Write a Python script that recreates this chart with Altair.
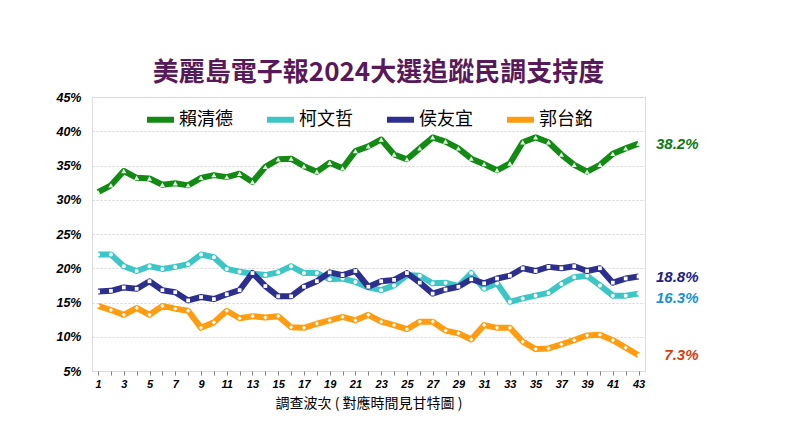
import altair as alt
import pandas as pd

waves = list(range(1, 44))
series_names = ["賴清德", "柯文哲", "侯友宜", "郭台銘"]

lai = [31.1, 32.1, 34.2, 33.2, 33.1, 32.2, 32.4, 32.1, 33.2, 33.6, 33.3, 33.8, 32.6, 34.8, 35.9,
       36.0, 34.9, 34.1, 35.4, 34.6, 37.1, 37.8, 38.8, 36.6, 35.9, 37.5, 39.1, 38.5, 37.5, 36.0,
       35.2, 34.3, 35.3, 38.4, 39.1, 38.4, 36.6, 35.1, 34.1, 35.1, 36.7, 37.5, 38.2]
ko = [22.0, 22.0, 20.3, 19.6, 20.3, 19.9, 20.2, 20.6, 22.0, 21.6, 19.9, 19.5, 19.2, 19.0, 19.4,
      20.3, 19.3, 19.3, 18.4, 18.5, 18.0, 17.2, 16.8, 17.5, 19.0, 18.9, 17.8, 17.9, 17.4, 19.3,
      17.0, 17.8, 15.1, 15.6, 16.0, 16.4, 17.7, 18.7, 18.9, 17.5, 16.0, 16.0, 16.3]
hou = [16.6, 16.7, 17.2, 17.0, 18.1, 16.8, 16.5, 15.3, 15.8, 15.5, 16.2, 16.8, 19.3, 17.4, 15.9,
       15.9, 17.3, 18.1, 19.4, 19.0, 19.6, 17.3, 18.1, 18.3, 19.3, 17.9, 16.3, 16.9, 17.3, 18.4,
       17.8, 18.5, 18.9, 20.0, 19.6, 20.2, 20.0, 20.3, 19.6, 20.0, 17.9, 18.5, 18.8]
gou = [14.5, 13.9, 13.2, 14.2, 13.2, 14.5, 14.1, 13.8, 11.3, 12.1, 13.8, 12.7, 13.0, 12.8, 13.0,
       11.4, 11.3, 11.9, 12.4, 12.9, 12.4, 13.2, 12.2, 11.7, 11.1, 12.2, 12.2, 10.9, 10.5, 9.6,
       11.7, 11.3, 11.3, 9.3, 8.2, 8.3, 8.9, 9.5, 10.2, 10.3, 9.5, 8.4, 7.3]
all_values = [lai, ko, hou, gou]

y_ticks = [5, 10, 15, 20, 25, 30, 35, 40, 45]

line_colors = ["#138a13", "#3cc6c6", "#2d2f8f", "#ff9c0f"]
label_colors = ["#0f7a12", "#1b93d1", "#1c1d8c", "#d4400f"]
marker_shapes = ["triangle-up", "circle", "square", "diamond"]
marker_fills = ["#e6ffe6", "white", "white", "white"]
marker_sizes = [26, 16, 14, 18]
label_dy = [0, 4, 1, 0]

rows = []
for name, vals in zip(series_names, all_values):
    for w, v in zip(waves, vals):
        rows.append({"wave": w, "value": v, "series": name, "label": f"{v}%"})
df = pd.DataFrame(rows)

x_enc = alt.X(
    "wave:Q",
    scale=alt.Scale(domain=[0.53, 43.5], nice=False, zero=False),
    axis=alt.Axis(
        values=waves,
        labelExpr="datum.value % 2 == 1 ? datum.label : ''",
        labelOverlap=False,
        labelFont="Liberation Sans",
        labelFontSize=11,
        labelFontWeight="bold",
        labelFontStyle="italic",
        labelColor="black",
        labelPadding=3,
        ticks=True,
        tickSize=4,
        tickColor="#808080",
        domain=False,
        grid=False,
        title="調查波次 ( 對應時間見甘特圖 )",
        titleFont="Noto Sans CJK TC",
        titleFontSize=14,
        titleFontWeight="normal",
        titleColor="black",
        titlePadding=7,
    ),
)
y_enc = alt.Y(
    "value:Q",
    scale=alt.Scale(domain=[5, 45], nice=False, zero=False),
    axis=alt.Axis(
        values=y_ticks,
        labelExpr="datum.value + '%'",
        labelFont="Liberation Sans",
        labelFontSize=12.5,
        labelFontWeight="bold",
        labelFontStyle="italic",
        labelColor="black",
        labelPadding=11,
        ticks=False,
        domain=False,
        grid=True,
        gridColor="#d4d4d4",
        gridDash=[2, 2],
        title=None,
    ),
)
color_enc = alt.Color(
    "series:N",
    scale=alt.Scale(domain=series_names, range=line_colors),
    legend=alt.Legend(
        orient="none",
        legendX=52,
        legendY=6,
        direction="horizontal",
        title=None,
        symbolType="stroke",
        symbolStrokeWidth=6,
        symbolSize=729,
        labelFont="Noto Sans CJK TC",
        labelFontSize=18,
        labelColor="black",
        labelOffset=2,
        columnPadding=22,
    ),
)

layers = []
for i, name in enumerate(series_names):
    sub = df[df["series"] == name]
    line = alt.Chart(sub).mark_line(strokeWidth=6, strokeJoin="round").encode(
        x=x_enc, y=y_enc, color=color_enc
    )
    pts = alt.Chart(sub).mark_point(
        shape=marker_shapes[i], filled=True, fill=marker_fills[i], opacity=1,
        size=marker_sizes[i], strokeWidth=0
    ).encode(x=x_enc, y=y_enc)
    layers += [line, pts]

for i, name in enumerate(series_names):
    last = df[(df["series"] == name) & (df["wave"] == waves[-1])]
    txt = alt.Chart(last).mark_text(
        align="right", baseline="middle", dx=60, dy=label_dy[i],
        font="Liberation Sans", fontSize=15, fontWeight="bold", fontStyle="italic",
        color=label_colors[i]
    ).encode(x=x_enc, y=y_enc, text="label:N")
    layers.append(txt)

chart = alt.layer(*layers).properties(
    width=553,
    height=274,
    autosize=alt.AutoSizeParams(type="none"),
    padding={"left": 84, "top": 89, "right": 147, "bottom": 61},
    title=alt.Title(
        "美麗島電子報2024大選追蹤民調支持度",
        font="Noto Sans CJK TC",
        fontSize=26,
        fontWeight="bold",
        color="#58195a",
        anchor="middle",
        dx=10,
        offset=5,
    ),
).configure_view(stroke="#a6a6a6", strokeWidth=1.5).configure(background="white")

chart.save("out.html", embed_options={"renderer": "svg", "actions": False})
